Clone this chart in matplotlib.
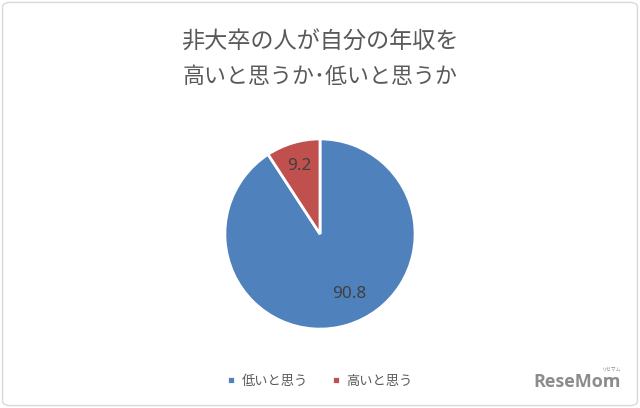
import matplotlib
matplotlib.use("Agg")
import matplotlib.pyplot as plt
from matplotlib.patches import FancyBboxPatch

plt.rcParams['font.family'] = ['Noto Sans CJK JP', 'DejaVu Sans']

title_lines = ["非大卒の人が自分の年収を", "高いと思うか･低いと思うか"]
categories = ["低いと思う", "高いと思う"]
values = [90.8, 9.2]
colors = ["#4F81BD", "#C0504D"]

W, H = 640, 408
fig = plt.figure(figsize=(6.4, 4.08), dpi=100)
fig.patch.set_facecolor("white")

border = FancyBboxPatch((0.004, 0.006), 0.992, 0.988, boxstyle="round,pad=0,rounding_size=0.012",
                        transform=fig.transFigure, facecolor="none", edgecolor="#D9D9D9", linewidth=1.0)
fig.patches.append(border)

fig.text(0.5, 1 - 42 / H, title_lines[0], ha="center", va="center", fontsize=16.7, color="#595959")
fig.text(0.5, 1 - 77 / H, title_lines[1], ha="center", va="center", fontsize=15.8, color="#595959")

w = 194 / W
h = 194 / H
cx, cy = 0.5, 1 - 234 / H
ax = fig.add_axes([cx - w / 2, cy - h / 2, w, h])
wedges, texts, autotexts = ax.pie(values, colors=colors, startangle=90, counterclock=False,
                                  autopct=lambda p: "", pctdistance=0.75,
                                  wedgeprops=dict(edgecolor="white", linewidth=2))
for at, v in zip(autotexts, values):
    at.set_text(f"{v}")
    at.set_fontsize(12.3)
    at.set_color("#404040")
    at.set_family(["Noto Sans", "DejaVu Sans"])
# Excel-style placement of the large slice's label
autotexts[0].set_position((0.31, -0.63))
ax.set_xlim(-1.02, 1.02)
ax.set_ylim(-1.02, 1.02)
ax.set_aspect("equal")
ax.axis("off")

leg = fig.legend(wedges, categories, loc="center", bbox_to_anchor=(0.5, 1 - 381 / H), ncol=2,
                 frameon=False, fontsize=9.5, handlelength=0.6, handleheight=0.6, handletextpad=0.5,
                 columnspacing=1.8, labelcolor="#595959")

fig.text(577 / W, 1 - 382 / H, "ReseMom", ha="center", va="center", fontsize=13, fontweight="bold",
         color="#8C8C8C", family=["Open Sans", "DejaVu Sans"])
fig.text(612 / W, 1 - 369 / H, "リセマム", ha="center", va="center", fontsize=3.5, color="#8C8C8C")

fig.savefig("out.png", dpi=100, facecolor="white")
